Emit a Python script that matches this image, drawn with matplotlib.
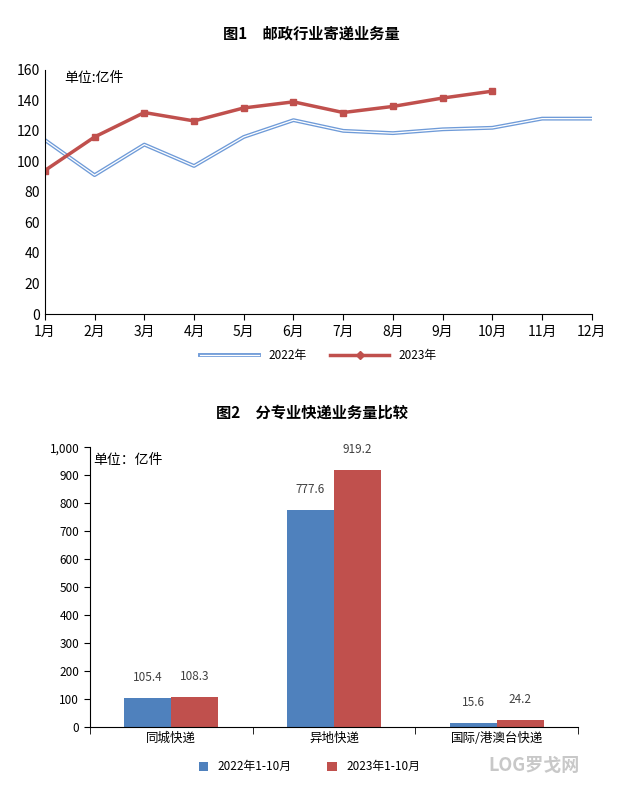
import matplotlib.pyplot as plt
import matplotlib.patheffects as pe
import numpy as np

plt.rcParams['font.family'] = ['Noto Sans CJK SC', 'DejaVu Sans']

months = ['1月', '2月', '3月', '4月', '5月', '6月', '7月', '8月', '9月', '10月', '11月', '12月']
vol_2022 = [114, 91, 111, 97, 116, 127, 120, 118.5, 121, 122, 128, 128]
vol_2023 = [94, 116, 132, 126.5, 135, 139, 132, 136, 141.5, 146]

categories = ['同城快递', '异地快递', '国际/港澳台快递']
bar_2022 = [105.4, 777.6, 15.6]
bar_2023 = [108.3, 919.2, 24.2]

blue = '#4f81bd'
red = '#c0504d'

fig = plt.figure(figsize=(6.23, 7.93), dpi=100)

# chart 1
ax1 = fig.add_axes([0.072, 0.604, 0.878, 0.308])
x = np.arange(len(months))
dbl = [pe.Stroke(linewidth=2.8, foreground='#6f9bd8'), pe.Normal()]
h1, = ax1.plot(x, vol_2022, color='white', lw=0.9, path_effects=dbl)
ax1.plot(np.arange(len(vol_2023)), vol_2023, color=red, lw=2.5, marker='s', ms=5)
ax1.set_xlim(0, 11)
ax1.set_ylim(0, 160)
ax1.set_yticks(range(0, 161, 20))
ax1.set_xticks(x)
ax1.set_xticklabels(months, fontsize=10)
ax1.tick_params(axis='y', labelsize=10, length=0)
ax1.tick_params(axis='x', length=4, direction='out')
for s in ['top', 'right']:
    ax1.spines[s].set_visible(False)
ax1.text(0.4, 152, '单位:亿件', fontsize=10)
fig.text(0.5, 0.958, '图1　邮政行业寄递业务量', ha='center', va='center', fontsize=11, fontweight='bold')
h2, = ax1.plot([], [], color=red, lw=2.5, marker='D', ms=4)
ax1.legend([h1, h2], ['2022年', '2023年'], loc='upper center', bbox_to_anchor=(0.5, -0.1),
           ncol=2, frameon=False, fontsize=8.5, handlelength=5)

# chart 2
ax2 = fig.add_axes([0.144, 0.083, 0.784, 0.353])
xb = np.arange(len(categories))
w = 0.29
ax2.bar(xb - w / 2, bar_2022, w, color=blue, label='2022年1-10月')
ax2.bar(xb + w / 2, bar_2023, w, color=red, label='2023年1-10月')
for i in range(len(categories)):
    ax2.text(xb[i] - w / 2, bar_2022[i] + 50, f'{bar_2022[i]:.1f}', ha='center', va='bottom', fontsize=8.5, color='#404040')
    ax2.text(xb[i] + w / 2, bar_2023[i] + 50, f'{bar_2023[i]:.1f}', ha='center', va='bottom', fontsize=8.5, color='#404040')
ax2.set_xlim(-0.5, 2.5)
ax2.set_ylim(0, 1000)
ax2.set_yticks(range(0, 1001, 100))
ax2.set_yticklabels([f'{v:,}' for v in range(0, 1001, 100)], fontsize=8.5)
ax2.set_xticks(xb)
ax2.set_xticklabels(categories, fontsize=9)
ax2.set_xticks([-0.5, 0.5, 1.5, 2.5], minor=True)
ax2.tick_params(axis='x', which='major', length=0)
ax2.tick_params(axis='x', which='minor', length=5)
ax2.tick_params(axis='y', length=4)
for s in ['top', 'right']:
    ax2.spines[s].set_visible(False)
ax2.text(-0.48, 940, '单位：亿件', fontsize=10)
fig.text(0.5, 0.479, '图2　分专业快递业务量比较', ha='center', va='center', fontsize=11, fontweight='bold')
ax2.legend(loc='upper center', bbox_to_anchor=(0.45, -0.08), ncol=2, frameon=False,
           fontsize=8.5, handlelength=0.8, handleheight=0.8, columnspacing=3)

fig.text(0.93, 0.035, 'LOG罗戈网', ha='right', va='center', fontsize=13, color='#c8c8c8', fontweight='bold')

fig.savefig('out.png', dpi=100)
